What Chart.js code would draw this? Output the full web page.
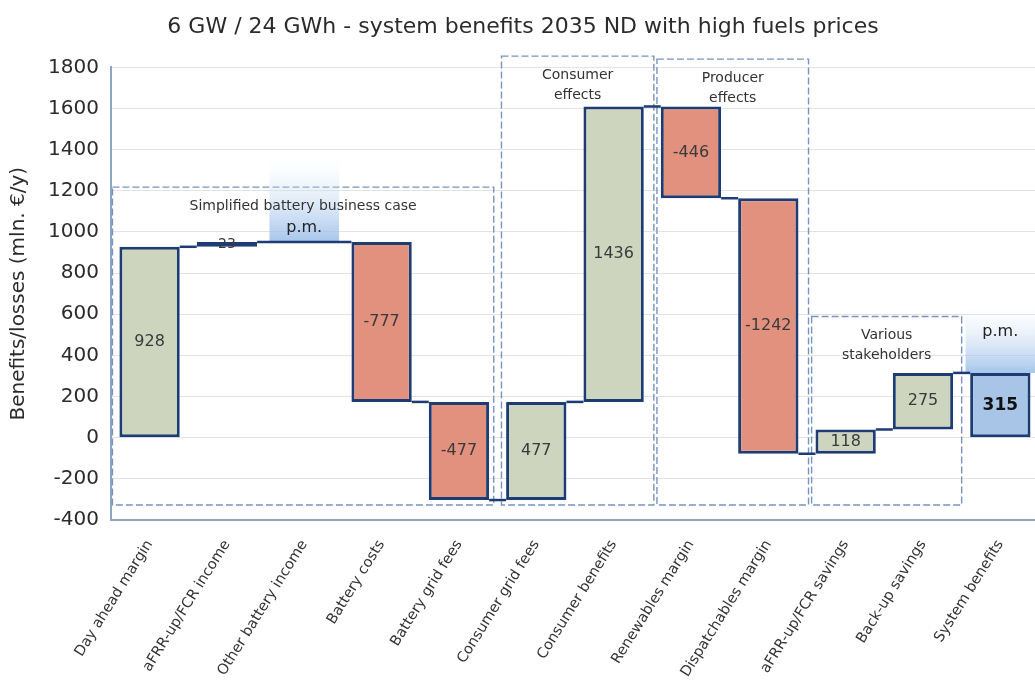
<!DOCTYPE html>
<html><head><meta charset="utf-8">
<script src="https://cdn.jsdelivr.net/npm/chart.js@4/dist/chart.umd.min.js"></script>
<style>html,body{margin:0;padding:0;background:#fff;overflow:hidden}#wrap{width:1039px;height:682px;position:relative}</style>
</head><body><div id="wrap"><canvas id="c"></canvas></div>
<script>
const categories = ["Day ahead margin","aFRR-up/FCR income","Other battery income","Battery costs","Battery grid fees","Consumer grid fees","Consumer benefits","Renewables margin","Dispatchables margin","aFRR-up/FCR savings","Back-up savings","System benefits"];
const stepValues = [928, 23, null, -777, -477, 477, 1436, -446, -1242, 118, 275, 315];
const stepKinds = ["inc","inc","pm","dec","dec","inc","inc","dec","dec","inc","inc","total"];
const valueLabels = ["928","23","","-777","-477","477","1436","-446","-1242","118","275","315"];
const pmTops = [null, null, 1360, null, null, null, null, null, null, null, null, 640];
const yTicks = [-400,-200,0,200,400,600,800,1000,1200,1400,1600,1800];
const groupBoxes = [
  {lines:["Simplified battery business case"], from:-0.48, to:4.45, top:1218, bottom:-327},
  {lines:["Consumer","effects"], from:4.55, to:6.52, top:1855, bottom:-327},
  {lines:["Producer","effects"], from:6.56, to:8.52, top:1840, bottom:-327},
  {lines:["Various","stakeholders"], from:8.56, to:10.5, top:589, bottom:-327}
];

// build floating ranges
const ranges = [], ends = [];
let run = 0;
stepValues.forEach((v,i)=>{
  if (v === null) { ranges.push(null); ends.push(run); return; }
  if (stepKinds[i] === "total") { ranges.push([0, v]); run = v; }
  else { ranges.push([run, run + v]); run += v; }
  ends.push(run);
});
const pmRanges = pmTops.map((t,i)=> t===null ? null : [ends[i], t]);

const GREEN="#cdd5bf", RED="#e2917f", BLUE="#a8c5e8", NAVY="#1d3c73";
const fills = stepKinds.map(k=> k==="inc"?GREEN : k==="dec"?RED : k==="total"?BLUE : "rgba(0,0,0,0)");

const FONT = "'DejaVu Sans', 'Liberation Sans', Arial, sans-serif";

const overlay = {
  id:'overlay',
  beforeDatasetsDraw(chart){
    const {ctx, scales:{x,y}} = chart;
    const w = x.getPixelForValue(1) - x.getPixelForValue(0);
    ctx.save();
    ctx.strokeStyle = "#7893c0"; ctx.lineWidth = 1.4; ctx.setLineDash([7,3]);
    groupBoxes.forEach(b=>{
      const x0 = x.getPixelForValue(0) + b.from*w, x1 = x.getPixelForValue(0) + b.to*w;
      const y0 = y.getPixelForValue(b.top), y1 = y.getPixelForValue(b.bottom);
      ctx.strokeRect(x0, y0, x1-x0, y1-y0);
    });
    ctx.restore();
  },
  afterDatasetsDraw(chart){
    const {ctx, scales:{x,y}} = chart;
    const meta = chart.getDatasetMeta(0);
    ctx.save();
    // connectors
    ctx.strokeStyle = NAVY; ctx.lineWidth = 2.5; ctx.setLineDash([]);
    for (let i=0;i<ranges.length-1;i++){
      if (!ranges[i]) continue;
      let j=i+1; while (j<ranges.length && !ranges[j]) j++;
      if (j>=ranges.length) break;
      const a = meta.data[i], b = meta.data[j];
      const yy = y.getPixelForValue(ends[i]);
      ctx.beginPath(); ctx.moveTo(a.x + a.width/2, yy); ctx.lineTo(b.x - b.width/2, yy); ctx.stroke();
    }
    // value labels
    ctx.textAlign = "center"; ctx.textBaseline = "middle";
    ranges.forEach((r,i)=>{
      if (!r || !valueLabels[i]) return;
      const el = meta.data[i];
      const yy = (y.getPixelForValue(r[0]) + y.getPixelForValue(r[1]))/2;
      if (stepKinds[i]==="total"){ ctx.font = "bold 17px "+FONT; ctx.fillStyle="#111"; }
      else if (i===1){ ctx.font = "14px "+FONT; ctx.fillStyle="#3a3a3a"; }
      else { ctx.font = "16px "+FONT; ctx.fillStyle="#3a3a3a"; }
      ctx.fillText(valueLabels[i], el.x, yy);
    });
    // box labels
    const w = x.getPixelForValue(1) - x.getPixelForValue(0);
    ctx.fillStyle = "#333"; ctx.font = "14px "+FONT;
    groupBoxes.forEach(b=>{
      const cx = x.getPixelForValue(0) + (b.from+b.to)/2*w;
      const y0 = y.getPixelForValue(b.top);
      b.lines.forEach((t,k)=> ctx.fillText(t, cx, y0 + 19 + k*20));
    });
    // p.m. labels
    ctx.font = "16px "+FONT; ctx.fillStyle = "#222";
    pmRanges.forEach((r,i)=>{
      if (!r) return;
      const el = chart.getDatasetMeta(1).data[i];
      const yy = stepKinds[i]==="total" ? y.getPixelForValue(r[0]+200) : y.getPixelForValue(r[0]+70);
      ctx.fillText("p.m.", el.x, yy);
    });
    ctx.restore();
  }
};

new Chart(document.getElementById('c'), {
  type:'bar',
  data:{
    labels: categories,
    datasets:[
      {data: ranges, backgroundColor: fills, borderColor: NAVY, borderWidth: 3, borderSkipped:false,
       grouped:false, categoryPercentage:1, barPercentage:0.78, order:1},
      {data: pmRanges, grouped:false, categoryPercentage:1, barPercentage:0.9, borderWidth:0, order:2,
       backgroundColor:(c)=>{
         const ch = c.chart; const r = pmRanges[c.dataIndex];
         if (!r || !ch.scales || !ch.scales.y || !ch.chartArea) return "rgba(168,197,232,0.5)";
         const y0 = ch.scales.y.getPixelForValue(r[0]), y1 = ch.scales.y.getPixelForValue(r[1]);
         const g = ch.ctx.createLinearGradient(0,y0,0,y1);
         g.addColorStop(0,"rgba(150,188,232,0.85)");
         g.addColorStop(0.5,"rgba(190,213,240,0.45)");
         g.addColorStop(1,"rgba(230,240,250,0)");
         return g;
       }}
    ]
  },
  options:{
    responsive:true, maintainAspectRatio:false, animation:false,
    layout:{padding:{left:7,right:0,top:4,bottom:0}},
    plugins:{
      legend:{display:false}, tooltip:{enabled:false},
      title:{display:true, text:"6 GW / 24 GWh - system benefits 2035 ND with high fuels prices",
        color:"#2b2b2b", font:{family:FONT, size:22, weight:'normal'}, padding:{top:10,bottom:27}}
    },
    scales:{
      x:{offset:true, grid:{display:false, drawTicks:false},
         border:{display:true, color:"#8ea5c6", width:2},
         afterFit:(s)=>{ s.height = 162; },
         ticks:{color:"#333", font:{family:FONT,size:14.5}, minRotation:58, maxRotation:58, padding:17, autoSkip:false}},
      y:{min:-400, max:1800,
         afterBuildTicks:(s)=>{ s.ticks = yTicks.map(v=>({value:v})); },
         grid:{color:"#e3e3e3", drawTicks:false},
         border:{display:true, color:"#8ea5c6", width:2},
         ticks:{color:"#2b2b2b", font:{family:FONT,size:20}, padding:12, callback:(v)=>String(v)},
         title:{display:true, text:"Benefits/losses (mln. €/y)", color:"#2b2b2b", font:{family:FONT,size:20}, padding:{top:0,bottom:5}}}
    }
  },
  plugins:[overlay]
});
</script></body></html>
